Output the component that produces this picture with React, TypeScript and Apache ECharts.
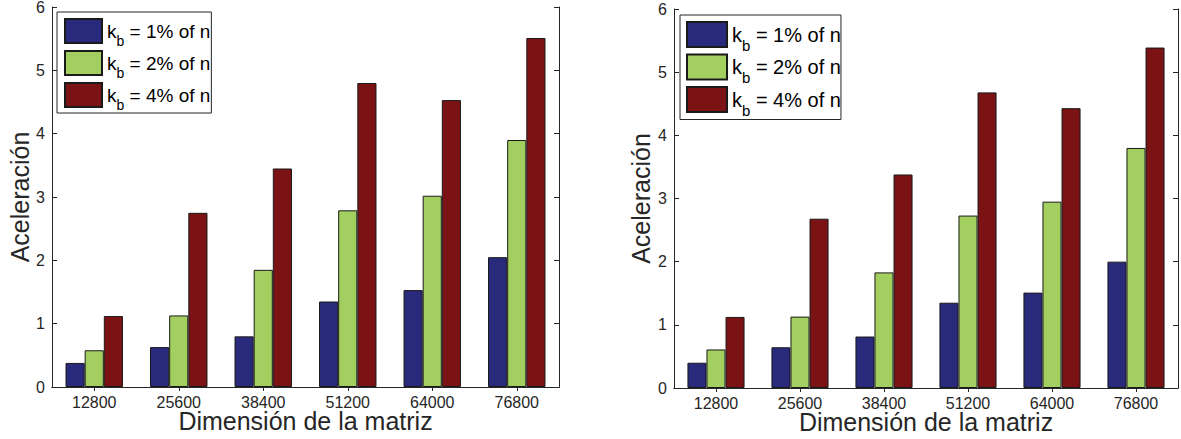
import React, { useEffect, useRef } from 'react';
import * as echarts from 'echarts';

const categories = ['12800', '25600', '38400', '51200', '64000', '76800'];
const leftKb1 = [0.38, 0.63, 0.8, 1.35, 1.53, 2.05];
const leftKb2 = [0.58, 1.13, 1.85, 2.79, 3.02, 3.9];
const leftKb4 = [1.12, 2.75, 3.45, 4.8, 4.53, 5.51];
const rightKb1 = [0.4, 0.645, 0.815, 1.35, 1.51, 2.0];
const rightKb2 = [0.61, 1.13, 1.83, 2.73, 2.95, 3.8];
const rightKb4 = [1.125, 2.68, 3.38, 4.68, 4.43, 5.39];
const seriesNames = ['kb1', 'kb2', 'kb4'];
const legendPercents = ['1%', '2%', '4%'];
const yAxisTitle = 'Aceleración';
const xAxisTitle = 'Dimensión de la matriz';
const yMin = 0;
const yMax = 6;
const yInterval = 1;

const FONT = "'Liberation Sans', Arial, Helvetica, sans-serif";
const COLORS = ['#2a2a7c', '#a2cf5f', '#7b1315'];
const AX = '#262626';

export default function App() {
  const ref = useRef<HTMLDivElement>(null);
  useEffect(() => {
    if (!ref.current) return;
    const chart = echarts.init(ref.current, undefined, { renderer: 'svg' });

    const grids = [
      { left: 52, right: 622, top: 7, bottom: 52, outerBoundsMode: 'none', containLabel: false },
      { left: 674, right: 3, top: 9, bottom: 51, outerBoundsMode: 'none', containLabel: false },
    ];
    const yNameGaps = [20, 21];
    const data = [
      [leftKb1, leftKb2, leftKb4],
      [rightKb1, rightKb2, rightKb4],
    ];
    const xAxis: any[] = [];
    const yAxis: any[] = [];
    const series: any[] = [];
    grids.forEach((_, gi) => {
      xAxis.push({
        type: 'category',
        data: categories,
        gridIndex: gi,
        position: 'bottom',
        axisLine: { show: true, lineStyle: { color: AX, width: 1 } },
        axisTick: { show: true, inside: true, alignWithLabel: true, length: 5, lineStyle: { color: AX } },
        axisLabel: { color: AX, fontSize: 16, lineHeight: 12, fontFamily: FONT, margin: 9 },
        name: xAxisTitle,
        nameLocation: 'middle',
        nameGap: 24,
        nameMoveOverlap: false,
        nameTextStyle: { color: AX, fontSize: 25, lineHeight: 20, fontFamily: FONT },
      });
      xAxis.push({
        type: 'category',
        data: categories,
        gridIndex: gi,
        position: 'top',
        axisLine: { show: true, lineStyle: { color: AX, width: 1 } },
        axisTick: { show: true, inside: true, alignWithLabel: true, length: 4, lineStyle: { color: AX } },
        axisLabel: { show: false },
      });
      yAxis.push({
        type: 'value',
        gridIndex: gi,
        position: 'left',
        min: yMin,
        max: yMax,
        interval: yInterval,
        splitLine: { show: false },
        axisLine: { show: true, lineStyle: { color: AX, width: 1 } },
        axisTick: { show: true, inside: true, length: 5, lineStyle: { color: AX } },
        axisLabel: { color: AX, fontSize: 16, fontFamily: FONT, margin: 7 },
        name: yAxisTitle,
        nameLocation: 'middle',
        nameGap: yNameGaps[gi],
        nameTextStyle: { color: AX, fontSize: 25, fontFamily: FONT },
      });
      yAxis.push({
        type: 'value',
        gridIndex: gi,
        position: 'right',
        min: yMin,
        max: yMax,
        interval: yInterval,
        splitLine: { show: false },
        axisLine: { show: true, lineStyle: { color: AX, width: 1 } },
        axisTick: { show: true, inside: true, length: 5, lineStyle: { color: AX } },
        axisLabel: { show: false },
      });
      data[gi].forEach((vals, si) => {
        series.push({
          type: 'bar',
          name: seriesNames[si],
          xAxisIndex: gi * 2,
          yAxisIndex: gi * 2,
          data: vals,
          barGap: '0%',
          barCategoryGap: '32%',
          itemStyle: { color: COLORS[si], borderColor: '#1a1a1a', borderWidth: 1 },
          emphasis: { disabled: true },
        });
      });
    });

    const legendBase = (
      left: number,
      top: number,
      iw: number,
      ih: number,
      gap: number,
      fs: number,
      sub: number,
      pad: number[]
    ) => ({
      orient: 'vertical',
      left,
      top,
      data: seriesNames,
      icon: 'rect',
      itemWidth: iw,
      itemHeight: ih,
      itemGap: gap,
      padding: pad,
      borderColor: AX,
      borderWidth: 1,
      backgroundColor: '#fff',
      selectedMode: false,
      formatter: (name: string) => {
        const i = seriesNames.indexOf(name);
        return `{k|k}{s|b}{t| = ${legendPercents[i]} of n}`;
      },
      textStyle: {
        color: '#000',
        fontFamily: FONT,
        fontSize: fs,
        rich: {
          k: { fontSize: fs, fontFamily: FONT, color: '#000' },
          s: { fontSize: fs - 5, fontFamily: FONT, color: '#000', padding: [sub, 0, 0, 0] },
          t: { fontSize: fs, fontFamily: FONT, color: '#000' },
        },
      },
    });

    chart.setOption({
      animation: false,
      backgroundColor: '#fff',
      grid: grids,
      xAxis,
      yAxis,
      series,
      legend: [
        legendBase(57, 12, 37, 24, 2, 19, 20, [6, 1, 1, 7]),
        legendBase(680, 15, 40, 25, 1, 20, 21, [6, 0, 2, 6]),
      ],
    });
    return () => chart.dispose();
  }, []);
  return (
    <div
      ref={ref}
      style={{ position: 'absolute', left: 0, top: 0, width: 1181, height: 439 }}
    />
  );
}
